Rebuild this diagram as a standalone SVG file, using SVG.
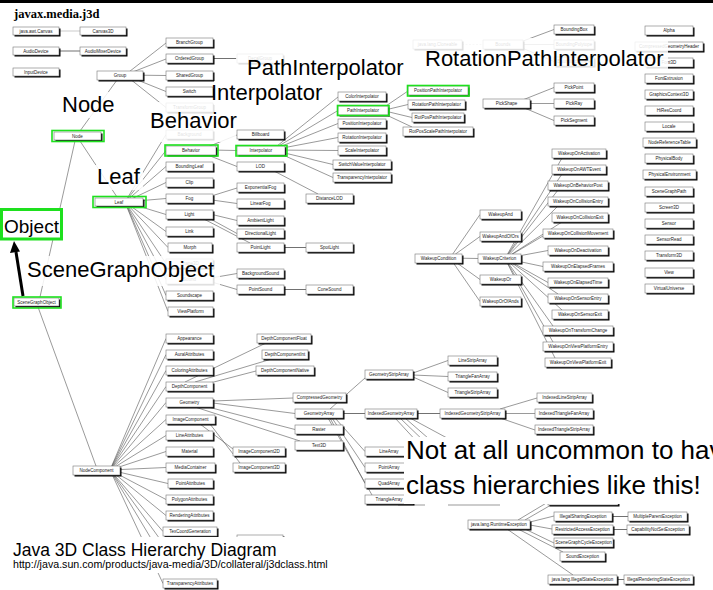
<svg xmlns="http://www.w3.org/2000/svg" width="713" height="590" viewBox="0 0 713 590">
<style>
.s{fill:#000}
.b{fill:#fff;stroke:#777;stroke-width:.6}
.t{font-family:"Liberation Sans",Arial,sans-serif;font-size:4.5px;fill:#222;text-anchor:middle}
.hl{fill:none;stroke:#1ee01e;stroke-width:1.6}
#connectors line{stroke:#555;stroke-width:.6}
#connectors .k{stroke:#111}
#connectors .d{stroke-dasharray:2 1.5;stroke:#aaa}
.L{font-family:"Liberation Sans",Arial,sans-serif;font-size:22px;fill:#000}
.fade{fill:#fff;fill-opacity:.86}
.op{fill:#fff}
</style>
<rect width="713" height="590" fill="#fff"/>
<rect width="713" height="3" fill="#000"/>
<text x="14" y="18" font-family="'Liberation Serif',serif" font-weight="bold" font-size="12.5">javax.media.j3d</text>

<g id="connectors">
<line x1="59" y1="31" x2="80" y2="31" style="stroke:#aaa"/>
<line class="k" x1="59" y1="51" x2="80" y2="51"/>
<line x1="125" y1="75" x2="166" y2="43"/>
<line x1="125" y1="75" x2="166" y2="59"/>
<line x1="125" y1="75" x2="166" y2="75.5"/>
<line x1="125" y1="75" x2="166" y2="91.5"/>
<line x1="125" y1="75" x2="166" y2="107.5"/>
<line class="k" x1="213" y1="58.5" x2="237" y2="58.5"/>
<line x1="80" y1="131" x2="117" y2="80"/>
<line x1="80" y1="141" x2="117" y2="197"/>
<line x1="40" y1="297" x2="75" y2="141"/>
<line x1="38" y1="307" x2="96" y2="466"/>
<line x1="125" y1="202" x2="166" y2="134.5"/>
<line x1="125" y1="202" x2="166" y2="150.5"/>
<line x1="125" y1="202" x2="166" y2="166.5"/>
<line x1="125" y1="202" x2="166" y2="182.5"/>
<line x1="125" y1="202" x2="166" y2="198.5"/>
<line x1="125" y1="202" x2="166" y2="214.5"/>
<line x1="125" y1="202" x2="166" y2="231.5"/>
<line x1="125" y1="202" x2="168" y2="247.5"/>
<line x1="125" y1="202" x2="166" y2="263.5"/>
<line x1="125" y1="202" x2="166" y2="279.5"/>
<line x1="125" y1="202" x2="166" y2="295.5"/>
<line x1="125" y1="202" x2="168" y2="311.5"/>
<line x1="200" y1="150" x2="237" y2="135"/>
<line x1="210" y1="150" x2="237" y2="150.5"/>
<line x1="200" y1="152" x2="237" y2="166.5"/>
<line x1="272" y1="150" x2="338" y2="97"/>
<line x1="272" y1="150" x2="338" y2="110.5"/>
<line x1="272" y1="150" x2="338" y2="123.5"/>
<line x1="272" y1="150" x2="338" y2="137.5"/>
<line x1="272" y1="150" x2="338" y2="150.5"/>
<line x1="272" y1="150" x2="333" y2="164.5"/>
<line x1="272" y1="150" x2="333" y2="177.5"/>
<line x1="274" y1="171" x2="318" y2="194"/>
<line x1="205" y1="198" x2="237" y2="188"/>
<line x1="205" y1="199" x2="237" y2="203.5"/>
<line x1="210" y1="214" x2="237" y2="220.5"/>
<line x1="205" y1="216" x2="237" y2="233.5"/>
<line x1="200" y1="217" x2="250" y2="243"/>
<line class="k" x1="284" y1="247.5" x2="306" y2="247.5"/>
<line x1="205" y1="279" x2="237" y2="273.5"/>
<line x1="205" y1="280" x2="237" y2="289.5"/>
<line class="k" x1="284" y1="289.5" x2="306" y2="289.5"/>
<line x1="380" y1="110" x2="408" y2="91"/>
<line x1="385" y1="110" x2="408" y2="104.5"/>
<line x1="385" y1="111" x2="412" y2="117.5"/>
<line x1="380" y1="112" x2="412" y2="127"/>
<line class="d" x1="462" y1="44.5" x2="483" y2="44.5"/>
<line x1="515" y1="44" x2="554" y2="29.5"/>
<line x1="523" y1="44.5" x2="554" y2="44.5"/>
<line x1="515" y1="45" x2="554" y2="61.5"/>
<line x1="515" y1="103" x2="554" y2="87.5"/>
<line x1="530" y1="103.5" x2="554" y2="103.5"/>
<line x1="515" y1="104" x2="554" y2="120.5"/>
<line x1="450" y1="258" x2="480" y2="214.5"/>
<line x1="450" y1="258" x2="480" y2="236.5"/>
<line x1="450" y1="258" x2="478" y2="258.5"/>
<line x1="450" y1="258" x2="480" y2="279.5"/>
<line x1="450" y1="258" x2="480" y2="301.5"/>
<line x1="505" y1="258.5" x2="562" y2="158"/>
<line x1="505" y1="258.5" x2="562" y2="174"/>
<line x1="505" y1="258.5" x2="558" y2="190"/>
<line x1="505" y1="258.5" x2="558" y2="206"/>
<line x1="505" y1="258.5" x2="562" y2="222"/>
<line x1="505" y1="258.5" x2="543" y2="236"/>
<line x1="505" y1="258.5" x2="548" y2="250.5"/>
<line x1="505" y1="258.5" x2="543" y2="266.5"/>
<line x1="505" y1="258.5" x2="548" y2="282.5"/>
<line x1="505" y1="258.5" x2="558" y2="294"/>
<line x1="505" y1="258.5" x2="562" y2="310"/>
<line x1="505" y1="258.5" x2="553" y2="326"/>
<line x1="505" y1="258.5" x2="553" y2="342"/>
<line x1="505" y1="258.5" x2="555" y2="358"/>
<line x1="110" y1="470" x2="166" y2="338.5"/>
<line x1="110" y1="470" x2="166" y2="354.5"/>
<line x1="110" y1="470" x2="166" y2="370.5"/>
<line x1="110" y1="470" x2="166" y2="386.5"/>
<line x1="110" y1="470" x2="166" y2="402.5"/>
<line x1="110" y1="470" x2="166" y2="419.5"/>
<line x1="110" y1="470" x2="166" y2="435.5"/>
<line x1="110" y1="470" x2="166" y2="451.5"/>
<line x1="110" y1="470" x2="166" y2="467.5"/>
<line x1="110" y1="470" x2="168" y2="483.5"/>
<line x1="110" y1="470" x2="166" y2="499.5"/>
<line x1="110" y1="470" x2="166" y2="515.5"/>
<line x1="110" y1="470" x2="163" y2="531.5"/>
<line x1="110" y1="470" x2="166" y2="547.5"/>
<line x1="110" y1="470" x2="166" y2="563.5"/>
<line x1="110" y1="470" x2="163" y2="583.5"/>
<line x1="185" y1="382" x2="265" y2="343.5"/>
<line x1="195" y1="382" x2="270" y2="359.5"/>
<line x1="210" y1="383" x2="256" y2="371"/>
<line x1="213" y1="401" x2="293" y2="398"/>
<line x1="213" y1="403" x2="295" y2="413.5"/>
<line x1="208" y1="407" x2="295" y2="429.5"/>
<line x1="195" y1="407" x2="300" y2="441"/>
<line x1="200" y1="424" x2="233" y2="449"/>
<line x1="210" y1="424" x2="240" y2="463"/>
<line x1="330" y1="409" x2="365" y2="378"/>
<line class="k" x1="343" y1="413.5" x2="365" y2="413.5"/>
<line x1="335" y1="418" x2="365" y2="451.5"/>
<line x1="332" y1="418" x2="365" y2="467.5"/>
<line x1="330" y1="418" x2="365" y2="483.5"/>
<line x1="328" y1="418" x2="372" y2="495"/>
<line x1="413" y1="373" x2="448" y2="360.5"/>
<line x1="413" y1="375" x2="448" y2="376.5"/>
<line x1="413" y1="377" x2="448" y2="392.5"/>
<line class="k" x1="417" y1="413.5" x2="440" y2="413.5"/>
<line x1="395" y1="418" x2="420" y2="445"/>
<line x1="400" y1="418" x2="428" y2="445"/>
<line x1="405" y1="418" x2="436" y2="445"/>
<line x1="410" y1="418" x2="460" y2="445"/>
<line x1="500" y1="409" x2="537" y2="398"/>
<line x1="505" y1="413.5" x2="535" y2="413.5"/>
<line x1="500" y1="418" x2="535" y2="430"/>
<line x1="398" y1="505" x2="425" y2="505"/>
<line x1="448" y1="505" x2="500" y2="505"/>
<line x1="518" y1="520" x2="548" y2="502"/>
<line x1="525" y1="520" x2="551" y2="505"/>
<line x1="530" y1="522" x2="554" y2="516"/>
<line x1="530" y1="525" x2="552" y2="529"/>
<line x1="525" y1="529" x2="554" y2="543"/>
<line x1="518" y1="529" x2="563" y2="552"/>
<line x1="507" y1="529" x2="573" y2="575"/>
<line class="k" x1="612" y1="516.5" x2="628" y2="516.5"/>
<line class="k" x1="613" y1="529.5" x2="627" y2="529.5"/>
<line class="k" x1="617" y1="579.5" x2="624" y2="579.5"/>
</g>

<g id="n-canvas"><rect class="s" x="14.5" y="28.5" width="46" height="8"/><rect class="b" x="13" y="27" width="46" height="8"/><text class="t" x="36" y="32.6">java.awt.Canvas</text></g>
<g id="n-canvas3d"><rect class="s" x="81.5" y="28.5" width="46" height="8"/><rect class="b" x="80" y="27" width="46" height="8"/><text class="t" x="103" y="32.6">Canvas3D</text></g>
<g id="n-audiodevice"><rect class="s" x="14.5" y="48.5" width="46" height="8"/><rect class="b" x="13" y="47" width="46" height="8"/><text class="t" x="36" y="52.6">AudioDevice</text></g>
<g id="n-audiomixerdevice"><rect class="s" x="81.5" y="48.5" width="46" height="8"/><rect class="b" x="80" y="47" width="46" height="8"/><text class="t" x="103" y="52.6">AudioMixerDevice</text></g>
<g id="n-inputdevice"><rect class="s" x="14.5" y="69.5" width="46" height="8"/><rect class="b" x="13" y="68" width="46" height="8"/><text class="t" x="36" y="73.6">InputDevice</text></g>
<g id="n-group"><rect class="s" x="98.5" y="72.5" width="46" height="9"/><rect class="b" x="97" y="71" width="46" height="9"/><text class="t" x="120" y="77.1">Group</text></g>
<g id="n-branchgroup"><rect class="s" x="167.5" y="39.5" width="47" height="9"/><rect class="b" x="166" y="38" width="47" height="9"/><text class="t" x="189.5" y="44.1">BranchGroup</text></g>
<g id="n-orderedgroup"><rect class="s" x="167.5" y="55.5" width="47" height="9"/><rect class="b" x="166" y="54" width="47" height="9"/><text class="t" x="189.5" y="60.1">OrderedGroup</text></g>
<g id="n-sharedgroup"><rect class="s" x="167.5" y="72.5" width="47" height="9"/><rect class="b" x="166" y="71" width="47" height="9"/><text class="t" x="189.5" y="77.1">SharedGroup</text></g>
<g id="n-switch"><rect class="s" x="167.5" y="88.5" width="47" height="9"/><rect class="b" x="166" y="87" width="47" height="9"/><text class="t" x="189.5" y="93.1">Switch</text></g>
<g id="n-transformgroup"><rect class="s" x="167.5" y="104.5" width="47" height="9"/><rect class="b" x="166" y="103" width="47" height="9"/><text class="t" x="189.5" y="109.1">TransformGroup</text></g>
<g id="n-decalgroup"><rect class="s" x="238.5" y="55.5" width="46" height="9"/><rect class="b" x="237" y="54" width="46" height="9"/><text class="t" x="260" y="60.1">DecalGroup</text></g>
<g id="n-node"><rect class="s" x="55.5" y="133.5" width="47" height="8"/><rect class="b" x="54" y="132" width="47" height="8"/><text class="t" x="77.5" y="137.6">Node</text></g>
<g id="n-leaf"><rect class="s" x="96.5" y="199.5" width="48" height="8"/><rect class="b" x="95" y="198" width="48" height="8"/><text class="t" x="119" y="203.6">Leaf</text></g>
<g id="n-background"><rect class="s" x="167.5" y="131.5" width="47" height="9"/><rect class="b" x="166" y="130" width="47" height="9"/><text class="t" x="189.5" y="136.1">Background</text></g>
<g id="n-behavior"><rect class="s" x="167.5" y="147.5" width="50" height="9"/><rect class="b" x="166" y="146" width="50" height="9"/><text class="t" x="191" y="152.1">Behavior</text></g>
<g id="n-boundingleaf"><rect class="s" x="167.5" y="163.5" width="47" height="9"/><rect class="b" x="166" y="162" width="47" height="9"/><text class="t" x="189.5" y="168.1">BoundingLeaf</text></g>
<g id="n-clip"><rect class="s" x="167.5" y="179.5" width="47" height="9"/><rect class="b" x="166" y="178" width="47" height="9"/><text class="t" x="189.5" y="184.1">Clip</text></g>
<g id="n-fog"><rect class="s" x="167.5" y="195.5" width="47" height="9"/><rect class="b" x="166" y="194" width="47" height="9"/><text class="t" x="189.5" y="200.1">Fog</text></g>
<g id="n-light"><rect class="s" x="167.5" y="211.5" width="47" height="9"/><rect class="b" x="166" y="210" width="47" height="9"/><text class="t" x="189.5" y="216.1">Light</text></g>
<g id="n-link"><rect class="s" x="167.5" y="228.5" width="47" height="9"/><rect class="b" x="166" y="227" width="47" height="9"/><text class="t" x="189.5" y="233.1">Link</text></g>
<g id="n-morph"><rect class="s" x="169.5" y="244.5" width="44" height="9"/><rect class="b" x="168" y="243" width="44" height="9"/><text class="t" x="190" y="249.1">Morph</text></g>
<g id="n-shape3d"><rect class="s" x="167.5" y="260.5" width="47" height="9"/><rect class="b" x="166" y="259" width="47" height="9"/><text class="t" x="189.5" y="265.1">Shape3D</text></g>
<g id="n-sound"><rect class="s" x="167.5" y="276.5" width="47" height="9"/><rect class="b" x="166" y="275" width="47" height="9"/><text class="t" x="189.5" y="281.1">Sound</text></g>
<g id="n-soundscape"><rect class="s" x="167.5" y="292.5" width="47" height="9"/><rect class="b" x="166" y="291" width="47" height="9"/><text class="t" x="189.5" y="297.1">Soundscape</text></g>
<g id="n-viewplatform"><rect class="s" x="169.5" y="308.5" width="45" height="9"/><rect class="b" x="168" y="307" width="45" height="9"/><text class="t" x="190.5" y="313.1">ViewPlatform</text></g>
<g id="n-billboard"><rect class="s" x="238.5" y="131.5" width="47" height="9"/><rect class="b" x="237" y="130" width="47" height="9"/><text class="t" x="260.5" y="136.1">Billboard</text></g>
<g id="n-interpolator"><rect class="s" x="238.5" y="147.5" width="48" height="9"/><rect class="b" x="237" y="146" width="48" height="9"/><text class="t" x="261" y="152.1">Interpolator</text></g>
<g id="n-lod"><rect class="s" x="238.5" y="163.5" width="47" height="9"/><rect class="b" x="237" y="162" width="47" height="9"/><text class="t" x="260.5" y="168.1">LOD</text></g>
<g id="n-exponentialfog"><rect class="s" x="238.5" y="184.5" width="47" height="9"/><rect class="b" x="237" y="183" width="47" height="9"/><text class="t" x="260.5" y="189.1">ExponentialFog</text></g>
<g id="n-linearfog"><rect class="s" x="238.5" y="200.5" width="47" height="9"/><rect class="b" x="237" y="199" width="47" height="9"/><text class="t" x="260.5" y="205.1">LinearFog</text></g>
<g id="n-ambientlight"><rect class="s" x="238.5" y="217.5" width="47" height="9"/><rect class="b" x="237" y="216" width="47" height="9"/><text class="t" x="260.5" y="222.1">AmbientLight</text></g>
<g id="n-directionallight"><rect class="s" x="238.5" y="230.5" width="47" height="9"/><rect class="b" x="237" y="229" width="47" height="9"/><text class="t" x="260.5" y="235.1">DirectionalLight</text></g>
<g id="n-pointlight"><rect class="s" x="238.5" y="244.5" width="47" height="9"/><rect class="b" x="237" y="243" width="47" height="9"/><text class="t" x="260.5" y="249.1">PointLight</text></g>
<g id="n-spotlight"><rect class="s" x="307.5" y="244.5" width="47" height="9"/><rect class="b" x="306" y="243" width="47" height="9"/><text class="t" x="329.5" y="249.1">SpotLight</text></g>
<g id="n-distancelod"><rect class="s" x="307.5" y="195.5" width="47" height="9"/><rect class="b" x="306" y="194" width="47" height="9"/><text class="t" x="329.5" y="200.1">DistanceLOD</text></g>
<g id="n-backgroundsound"><rect class="s" x="238.5" y="270.5" width="47" height="9"/><rect class="b" x="237" y="269" width="47" height="9"/><text class="t" x="260.5" y="275.1">BackgroundSound</text></g>
<g id="n-pointsound"><rect class="s" x="238.5" y="286.5" width="47" height="9"/><rect class="b" x="237" y="285" width="47" height="9"/><text class="t" x="260.5" y="291.1">PointSound</text></g>
<g id="n-conesound"><rect class="s" x="307.5" y="286.5" width="47" height="9"/><rect class="b" x="306" y="285" width="47" height="9"/><text class="t" x="329.5" y="291.1">ConeSound</text></g>
<g id="n-colorinterpolator"><rect class="s" x="339.5" y="93.5" width="48" height="9"/><rect class="b" x="338" y="92" width="48" height="9"/><text class="t" x="362" y="98.1">ColorInterpolator</text></g>
<g id="n-pathinterpolator"><rect class="s" x="339.5" y="107.5" width="50" height="9"/><rect class="b" x="338" y="106" width="50" height="9"/><text class="t" x="363" y="112.1">PathInterpolator</text></g>
<g id="n-positioninterpolator"><rect class="s" x="339.5" y="120.5" width="48" height="9"/><rect class="b" x="338" y="119" width="48" height="9"/><text class="t" x="362" y="125.1">PositionInterpolator</text></g>
<g id="n-rotationinterpolator"><rect class="s" x="339.5" y="134.5" width="48" height="9"/><rect class="b" x="338" y="133" width="48" height="9"/><text class="t" x="362" y="139.1">RotationInterpolator</text></g>
<g id="n-scaleinterpolator"><rect class="s" x="339.5" y="147.5" width="48" height="9"/><rect class="b" x="338" y="146" width="48" height="9"/><text class="t" x="362" y="152.1">ScaleInterpolator</text></g>
<g id="n-switchvalueinterpolator"><rect class="s" x="334.5" y="161.5" width="58" height="9"/><rect class="b" x="333" y="160" width="58" height="9"/><text class="t" x="362" y="166.1">SwitchValueInterpolator</text></g>
<g id="n-transparencyinterpolator"><rect class="s" x="334.5" y="174.5" width="58" height="9"/><rect class="b" x="333" y="173" width="58" height="9"/><text class="t" x="362" y="179.1">TransparencyInterpolator</text></g>
<g id="n-positionpathinterpolator"><rect class="s" x="409.5" y="87.5" width="60" height="9"/><rect class="b" x="408" y="86" width="60" height="9"/><text class="t" x="438" y="92.1">PositionPathInterpolator</text></g>
<g id="n-rotationpathinterpolator"><rect class="s" x="409.5" y="101.5" width="57" height="9"/><rect class="b" x="408" y="100" width="57" height="9"/><text class="t" x="436.5" y="106.1">RotationPathInterpolator</text></g>
<g id="n-rotpospathinterpolator"><rect class="s" x="413.5" y="114.5" width="52" height="9"/><rect class="b" x="412" y="113" width="52" height="9"/><text class="t" x="438" y="119.1">RotPosPathInterpolator</text></g>
<g id="n-rotposscalepathinterpolator"><rect class="s" x="404.5" y="128.5" width="70" height="9"/><rect class="b" x="403" y="127" width="70" height="9"/><text class="t" x="438" y="133.1">RotPosScalePathInterpolator</text></g>
<g id="n-cloneable"><rect class="s" x="414.5" y="41.5" width="49" height="9"/><rect class="b" x="413" y="40" width="49" height="9"/><text class="t" x="437.5" y="46.1">java.lang.Cloneable</text></g>
<g id="n-bounds"><rect class="s" x="484.5" y="41.5" width="40" height="9"/><rect class="b" x="483" y="40" width="40" height="9"/><text class="t" x="503" y="46.1">Bounds</text></g>
<g id="n-boundingbox"><rect class="s" x="555.5" y="26.5" width="40" height="9"/><rect class="b" x="554" y="25" width="40" height="9"/><text class="t" x="574" y="31.1">BoundingBox</text></g>
<g id="n-boundingpolytope"><rect class="s" x="555.5" y="41.5" width="40" height="9"/><rect class="b" x="554" y="40" width="40" height="9"/><text class="t" x="574" y="46.1">BoundingPolytope</text></g>
<g id="n-boundingsphere"><rect class="s" x="555.5" y="58.5" width="40" height="9"/><rect class="b" x="554" y="57" width="40" height="9"/><text class="t" x="574" y="63.1">BoundingSphere</text></g>
<g id="n-pickshape"><rect class="s" x="484.5" y="100.5" width="47" height="9"/><rect class="b" x="483" y="99" width="47" height="9"/><text class="t" x="506.5" y="105.1">PickShape</text></g>
<g id="n-pickpoint"><rect class="s" x="555.5" y="84.5" width="40" height="9"/><rect class="b" x="554" y="83" width="40" height="9"/><text class="t" x="574" y="89.1">PickPoint</text></g>
<g id="n-pickray"><rect class="s" x="555.5" y="100.5" width="40" height="9"/><rect class="b" x="554" y="99" width="40" height="9"/><text class="t" x="574" y="105.1">PickRay</text></g>
<g id="n-picksegment"><rect class="s" x="555.5" y="117.5" width="40" height="9"/><rect class="b" x="554" y="116" width="40" height="9"/><text class="t" x="574" y="122.1">PickSegment</text></g>
<g id="n-alpha"><rect class="s" x="646.5" y="27.5" width="48" height="9"/><rect class="b" x="645" y="26" width="48" height="9"/><text class="t" x="669" y="32.1">Alpha</text></g>
<g id="n-compressedgeometryheader"><rect class="s" x="636.5" y="43.5" width="68" height="9"/><rect class="b" x="635" y="42" width="68" height="9"/><text class="t" x="669" y="48.1">CompressedGeometryHeader</text></g>
<g id="n-font3d"><rect class="s" x="646.5" y="59.5" width="48" height="9"/><rect class="b" x="645" y="58" width="48" height="9"/><text class="t" x="669" y="64.1">Font3D</text></g>
<g id="n-fontextrusion"><rect class="s" x="646.5" y="75.5" width="48" height="9"/><rect class="b" x="645" y="74" width="48" height="9"/><text class="t" x="669" y="80.1">FontExtrusion</text></g>
<g id="n-graphicscontext3d"><rect class="s" x="646.5" y="91.5" width="48" height="9"/><rect class="b" x="645" y="90" width="48" height="9"/><text class="t" x="669" y="96.1">GraphicsContext3D</text></g>
<g id="n-hirescoord"><rect class="s" x="646.5" y="107.5" width="48" height="9"/><rect class="b" x="645" y="106" width="48" height="9"/><text class="t" x="669" y="112.1">HiResCoord</text></g>
<g id="n-locale"><rect class="s" x="646.5" y="123.5" width="48" height="9"/><rect class="b" x="645" y="122" width="48" height="9"/><text class="t" x="669" y="128.1">Locale</text></g>
<g id="n-nodereferencetable"><rect class="s" x="644.5" y="139.5" width="53" height="9"/><rect class="b" x="643" y="138" width="53" height="9"/><text class="t" x="669.5" y="144.1">NodeReferenceTable</text></g>
<g id="n-physicalbody"><rect class="s" x="646.5" y="155.5" width="48" height="9"/><rect class="b" x="645" y="154" width="48" height="9"/><text class="t" x="669" y="160.1">PhysicalBody</text></g>
<g id="n-physicalenvironment"><rect class="s" x="644.5" y="171.5" width="53" height="9"/><rect class="b" x="643" y="170" width="53" height="9"/><text class="t" x="669.5" y="176.1">PhysicalEnvironment</text></g>
<g id="n-scenegraphpath"><rect class="s" x="646.5" y="188.5" width="48" height="9"/><rect class="b" x="645" y="187" width="48" height="9"/><text class="t" x="669" y="193.1">SceneGraphPath</text></g>
<g id="n-screen3d"><rect class="s" x="646.5" y="204.5" width="48" height="9"/><rect class="b" x="645" y="203" width="48" height="9"/><text class="t" x="669" y="209.1">Screen3D</text></g>
<g id="n-sensor"><rect class="s" x="646.5" y="220.5" width="48" height="9"/><rect class="b" x="645" y="219" width="48" height="9"/><text class="t" x="669" y="225.1">Sensor</text></g>
<g id="n-sensorread"><rect class="s" x="646.5" y="236.5" width="48" height="9"/><rect class="b" x="645" y="235" width="48" height="9"/><text class="t" x="669" y="241.1">SensorRead</text></g>
<g id="n-transform3d"><rect class="s" x="646.5" y="252.5" width="48" height="9"/><rect class="b" x="645" y="251" width="48" height="9"/><text class="t" x="669" y="257.1">Transform3D</text></g>
<g id="n-view"><rect class="s" x="646.5" y="269.5" width="48" height="9"/><rect class="b" x="645" y="268" width="48" height="9"/><text class="t" x="669" y="274.1">View</text></g>
<g id="n-virtualuniverse"><rect class="s" x="646.5" y="285.5" width="48" height="9"/><rect class="b" x="645" y="284" width="48" height="9"/><text class="t" x="669" y="290.1">VirtualUniverse</text></g>
<g id="n-wakeupcondition"><rect class="s" x="416.5" y="255.5" width="47" height="9"/><rect class="b" x="415" y="254" width="47" height="9"/><text class="t" x="438.5" y="260.1">WakeupCondition</text></g>
<g id="n-wakeupand"><rect class="s" x="481.5" y="211.5" width="41" height="9"/><rect class="b" x="480" y="210" width="41" height="9"/><text class="t" x="500.5" y="216.1">WakeupAnd</text></g>
<g id="n-wakeupandofors"><rect class="s" x="481.5" y="233.5" width="41" height="9"/><rect class="b" x="480" y="232" width="41" height="9"/><text class="t" x="500.5" y="238.1">WakeupAndOfOrs</text></g>
<g id="n-wakeupcriterion"><rect class="s" x="479.5" y="255.5" width="43" height="9"/><rect class="b" x="478" y="254" width="43" height="9"/><text class="t" x="499.5" y="260.1">WakeupCriterion</text></g>
<g id="n-wakeupor"><rect class="s" x="481.5" y="276.5" width="41" height="9"/><rect class="b" x="480" y="275" width="41" height="9"/><text class="t" x="500.5" y="281.1">WakeupOr</text></g>
<g id="n-wakeuporofands"><rect class="s" x="481.5" y="298.5" width="41" height="9"/><rect class="b" x="480" y="297" width="41" height="9"/><text class="t" x="500.5" y="303.1">WakeupOrOfAnds</text></g>
<g id="n-wakeuponactivation"><rect class="s" x="553.5" y="150.5" width="54" height="9"/><rect class="b" x="552" y="149" width="54" height="9"/><text class="t" x="579" y="155.1">WakeupOnActivation</text></g>
<g id="n-wakeuponawtevent"><rect class="s" x="553.5" y="166.5" width="54" height="9"/><rect class="b" x="552" y="165" width="54" height="9"/><text class="t" x="579" y="171.1">WakeupOnAWTEvent</text></g>
<g id="n-wakeuponbehaviorpost"><rect class="s" x="549.5" y="182.5" width="60" height="9"/><rect class="b" x="548" y="181" width="60" height="9"/><text class="t" x="578" y="187.1">WakeupOnBehaviorPost</text></g>
<g id="n-wakeuponcollisionentry"><rect class="s" x="549.5" y="198.5" width="60" height="9"/><rect class="b" x="548" y="197" width="60" height="9"/><text class="t" x="578" y="203.1">WakeupOnCollisionEntry</text></g>
<g id="n-wakeuponcollisionexit"><rect class="s" x="553.5" y="214.5" width="56" height="9"/><rect class="b" x="552" y="213" width="56" height="9"/><text class="t" x="580" y="219.1">WakeupOnCollisionExit</text></g>
<g id="n-wakeuponcollisionmovement"><rect class="s" x="544.5" y="230.5" width="70" height="9"/><rect class="b" x="543" y="229" width="70" height="9"/><text class="t" x="578" y="235.1">WakeupOnCollisionMovement</text></g>
<g id="n-wakeupondeactivation"><rect class="s" x="549.5" y="247.5" width="60" height="9"/><rect class="b" x="548" y="246" width="60" height="9"/><text class="t" x="578" y="252.1">WakeupOnDeactivation</text></g>
<g id="n-wakeuponelapsedframes"><rect class="s" x="544.5" y="263.5" width="70" height="9"/><rect class="b" x="543" y="262" width="70" height="9"/><text class="t" x="578" y="268.1">WakeupOnElapsedFrames</text></g>
<g id="n-wakeuponelapsedtime"><rect class="s" x="549.5" y="279.5" width="60" height="9"/><rect class="b" x="548" y="278" width="60" height="9"/><text class="t" x="578" y="284.1">WakeupOnElapsedTime</text></g>
<g id="n-wakeuponsensorentry"><rect class="s" x="549.5" y="295.5" width="60" height="9"/><rect class="b" x="548" y="294" width="60" height="9"/><text class="t" x="578" y="300.1">WakeupOnSensorEntry</text></g>
<g id="n-wakeuponsensorexit"><rect class="s" x="553.5" y="311.5" width="56" height="9"/><rect class="b" x="552" y="310" width="56" height="9"/><text class="t" x="580" y="316.1">WakeupOnSensorExit</text></g>
<g id="n-wakeupontransformchange"><rect class="s" x="544.5" y="327.5" width="70" height="9"/><rect class="b" x="543" y="326" width="70" height="9"/><text class="t" x="578" y="332.1">WakeupOnTransformChange</text></g>
<g id="n-wakeuponviewplatformentry"><rect class="s" x="544.5" y="343.5" width="70" height="9"/><rect class="b" x="543" y="342" width="70" height="9"/><text class="t" x="578" y="348.1">WakeupOnViewPlatformEntry</text></g>
<g id="n-wakeuponviewplatformexit"><rect class="s" x="546.5" y="359.5" width="66" height="9"/><rect class="b" x="545" y="358" width="66" height="9"/><text class="t" x="578" y="364.1">WakeupOnViewPlatformExit</text></g>
<g id="n-scenegraphobject"><rect class="s" x="15.5" y="299.5" width="45" height="8"/><rect class="b" x="14" y="298" width="45" height="8"/><text class="t" x="36.5" y="303.6">SceneGraphObject</text></g>
<g id="n-nodecomponent"><rect class="s" x="74.5" y="467.5" width="47" height="9"/><rect class="b" x="73" y="466" width="47" height="9"/><text class="t" x="96.5" y="472.1">NodeComponent</text></g>
<g id="n-appearance"><rect class="s" x="167.5" y="335.5" width="47" height="9"/><rect class="b" x="166" y="334" width="47" height="9"/><text class="t" x="189.5" y="340.1">Appearance</text></g>
<g id="n-auralattributes"><rect class="s" x="167.5" y="351.5" width="47" height="9"/><rect class="b" x="166" y="350" width="47" height="9"/><text class="t" x="189.5" y="356.1">AuralAttributes</text></g>
<g id="n-coloringattributes"><rect class="s" x="167.5" y="367.5" width="47" height="9"/><rect class="b" x="166" y="366" width="47" height="9"/><text class="t" x="189.5" y="372.1">ColoringAttributes</text></g>
<g id="n-depthcomponent"><rect class="s" x="167.5" y="383.5" width="47" height="9"/><rect class="b" x="166" y="382" width="47" height="9"/><text class="t" x="189.5" y="388.1">DepthComponent</text></g>
<g id="n-geometry"><rect class="s" x="167.5" y="399.5" width="47" height="9"/><rect class="b" x="166" y="398" width="47" height="9"/><text class="t" x="189.5" y="404.1">Geometry</text></g>
<g id="n-imagecomponent"><rect class="s" x="167.5" y="416.5" width="49" height="9"/><rect class="b" x="166" y="415" width="49" height="9"/><text class="t" x="190.5" y="421.1">ImageComponent</text></g>
<g id="n-lineattributes"><rect class="s" x="167.5" y="432.5" width="47" height="9"/><rect class="b" x="166" y="431" width="47" height="9"/><text class="t" x="189.5" y="437.1">LineAttributes</text></g>
<g id="n-material"><rect class="s" x="167.5" y="448.5" width="47" height="9"/><rect class="b" x="166" y="447" width="47" height="9"/><text class="t" x="189.5" y="453.1">Material</text></g>
<g id="n-mediacontainer"><rect class="s" x="167.5" y="464.5" width="49" height="9"/><rect class="b" x="166" y="463" width="49" height="9"/><text class="t" x="190.5" y="469.1">MediaContainer</text></g>
<g id="n-pointattributes"><rect class="s" x="169.5" y="480.5" width="45" height="9"/><rect class="b" x="168" y="479" width="45" height="9"/><text class="t" x="190.5" y="485.1">PointAttributes</text></g>
<g id="n-polygonattributes"><rect class="s" x="167.5" y="496.5" width="47" height="9"/><rect class="b" x="166" y="495" width="47" height="9"/><text class="t" x="189.5" y="501.1">PolygonAttributes</text></g>
<g id="n-renderingattributes"><rect class="s" x="167.5" y="512.5" width="47" height="9"/><rect class="b" x="166" y="511" width="47" height="9"/><text class="t" x="189.5" y="517.1">RenderingAttributes</text></g>
<g id="n-texcoordgeneration"><rect class="s" x="164.5" y="528.5" width="54" height="9"/><rect class="b" x="163" y="527" width="54" height="9"/><text class="t" x="190" y="533.1">TexCoordGeneration</text></g>
<g id="n-texture2d"><rect class="s" x="238.5" y="536.5" width="46" height="9"/><rect class="b" x="237" y="535" width="46" height="9"/></g>
<g id="n-transparencyattributes"><rect class="s" x="164.5" y="580.5" width="54" height="9"/><rect class="b" x="163" y="579" width="54" height="9"/><text class="t" x="190" y="585.1">TransparencyAttributes</text></g>
<g id="n-depthcomponentfloat"><rect class="s" x="258.5" y="335.5" width="54" height="9"/><rect class="b" x="257" y="334" width="54" height="9"/><text class="t" x="284" y="340.1">DepthComponentFloat</text></g>
<g id="n-depthcomponentint"><rect class="s" x="263.5" y="351.5" width="46" height="9"/><rect class="b" x="262" y="350" width="46" height="9"/><text class="t" x="285" y="356.1">DepthComponentInt</text></g>
<g id="n-depthcomponentnative"><rect class="s" x="257.5" y="367.5" width="58" height="9"/><rect class="b" x="256" y="366" width="58" height="9"/><text class="t" x="285" y="372.1">DepthComponentNative</text></g>
<g id="n-compressedgeometry"><rect class="s" x="294.5" y="394.5" width="53" height="9"/><rect class="b" x="293" y="393" width="53" height="9"/><text class="t" x="319.5" y="399.1">CompressedGeometry</text></g>
<g id="n-geometryarray"><rect class="s" x="296.5" y="410.5" width="48" height="9"/><rect class="b" x="295" y="409" width="48" height="9"/><text class="t" x="319" y="415.1">GeometryArray</text></g>
<g id="n-raster"><rect class="s" x="296.5" y="426.5" width="48" height="9"/><rect class="b" x="295" y="425" width="48" height="9"/><text class="t" x="319" y="431.1">Raster</text></g>
<g id="n-text3d"><rect class="s" x="296.5" y="442.5" width="48" height="9"/><rect class="b" x="295" y="441" width="48" height="9"/><text class="t" x="319" y="447.1">Text3D</text></g>
<g id="n-imagecomponent2d"><rect class="s" x="234.5" y="448.5" width="52" height="9"/><rect class="b" x="233" y="447" width="52" height="9"/><text class="t" x="259" y="453.1">ImageComponent2D</text></g>
<g id="n-imagecomponent3d"><rect class="s" x="234.5" y="464.5" width="52" height="9"/><rect class="b" x="233" y="463" width="52" height="9"/><text class="t" x="259" y="469.1">ImageComponent3D</text></g>
<g id="n-geometrystriparray"><rect class="s" x="366.5" y="371.5" width="48" height="9"/><rect class="b" x="365" y="370" width="48" height="9"/><text class="t" x="389" y="376.1">GeometryStripArray</text></g>
<g id="n-indexedgeometryarray"><rect class="s" x="366.5" y="410.5" width="52" height="9"/><rect class="b" x="365" y="409" width="52" height="9"/><text class="t" x="391" y="415.1">IndexedGeometryArray</text></g>
<g id="n-linearray"><rect class="s" x="366.5" y="448.5" width="48" height="9"/><rect class="b" x="365" y="447" width="48" height="9"/><text class="t" x="389" y="453.1">LineArray</text></g>
<g id="n-pointarray"><rect class="s" x="366.5" y="464.5" width="48" height="9"/><rect class="b" x="365" y="463" width="48" height="9"/><text class="t" x="389" y="469.1">PointArray</text></g>
<g id="n-quadarray"><rect class="s" x="366.5" y="480.5" width="48" height="9"/><rect class="b" x="365" y="479" width="48" height="9"/><text class="t" x="389" y="485.1">QuadArray</text></g>
<g id="n-trianglearray"><rect class="s" x="366.5" y="496.5" width="48" height="9"/><rect class="b" x="365" y="495" width="48" height="9"/><text class="t" x="389" y="501.1">TriangleArray</text></g>
<g id="n-linestriparray"><rect class="s" x="449.5" y="357.5" width="49" height="9"/><rect class="b" x="448" y="356" width="49" height="9"/><text class="t" x="472.5" y="362.1">LineStripArray</text></g>
<g id="n-trianglefanarray"><rect class="s" x="449.5" y="373.5" width="49" height="9"/><rect class="b" x="448" y="372" width="49" height="9"/><text class="t" x="472.5" y="378.1">TriangleFanArray</text></g>
<g id="n-trianglestriparray"><rect class="s" x="449.5" y="389.5" width="49" height="9"/><rect class="b" x="448" y="388" width="49" height="9"/><text class="t" x="472.5" y="394.1">TriangleStripArray</text></g>
<g id="n-indexedgeometrystriparray"><rect class="s" x="441.5" y="410.5" width="65" height="9"/><rect class="b" x="440" y="409" width="65" height="9"/><text class="t" x="472.5" y="415.1">IndexedGeometryStripArray</text></g>
<g id="n-indexedlinestriparray"><rect class="s" x="538.5" y="394.5" width="55" height="9"/><rect class="b" x="537" y="393" width="55" height="9"/><text class="t" x="564.5" y="399.1">IndexedLineStripArray</text></g>
<g id="n-indexedtrianglefanarray"><rect class="s" x="536.5" y="410.5" width="58" height="9"/><rect class="b" x="535" y="409" width="58" height="9"/><text class="t" x="564" y="415.1">IndexedTriangleFanArray</text></g>
<g id="n-indexedtrianglestriparray"><rect class="s" x="536.5" y="426.5" width="58" height="9"/><rect class="b" x="535" y="425" width="58" height="9"/><text class="t" x="564" y="431.1">IndexedTriangleStripArray</text></g>
<g id="n-exceptionbox"><rect class="s" x="549.5" y="497.5" width="70" height="9"/><rect class="b" x="548" y="496" width="70" height="9"/></g>
<g id="n-runtimeexception"><rect class="s" x="469.5" y="521.5" width="62" height="9"/><rect class="b" x="468" y="520" width="62" height="9"/><text class="t" x="499" y="526.1">java.lang.RuntimeException</text></g>
<g id="n-illegalsharingexception"><rect class="s" x="555.5" y="513.5" width="58" height="9"/><rect class="b" x="554" y="512" width="58" height="9"/><text class="t" x="583" y="518.1">IllegalSharingException</text></g>
<g id="n-multipleparentexception"><rect class="s" x="629.5" y="513.5" width="59" height="9"/><rect class="b" x="628" y="512" width="59" height="9"/><text class="t" x="657.5" y="518.1">MultipleParentException</text></g>
<g id="n-restrictedaccessexception"><rect class="s" x="553.5" y="526.5" width="61" height="9"/><rect class="b" x="552" y="525" width="61" height="9"/><text class="t" x="582.5" y="531.1">RestrictedAccessException</text></g>
<g id="n-capabilitynotsetexception"><rect class="s" x="628.5" y="526.5" width="62" height="9"/><rect class="b" x="627" y="525" width="62" height="9"/><text class="t" x="658" y="531.1">CapabilityNotSetException</text></g>
<g id="n-scenegraphcycleexception"><rect class="s" x="555.5" y="539.5" width="59" height="9"/><rect class="b" x="554" y="538" width="59" height="9"/><text class="t" x="583.5" y="544.1">SceneGraphCycleException</text></g>
<g id="n-soundexception"><rect class="s" x="561.5" y="553.5" width="45" height="9"/><rect class="b" x="560" y="552" width="45" height="9"/><text class="t" x="582.5" y="558.1">SoundException</text></g>
<g id="n-illegalstateexception"><rect class="s" x="549.5" y="576.5" width="69" height="9"/><rect class="b" x="548" y="575" width="69" height="9"/><text class="t" x="582.5" y="581.1">java.lang.IllegalStateException</text></g>
<g id="n-illegalrenderingstateexception"><rect class="s" x="625.5" y="576.5" width="69" height="9"/><rect class="b" x="624" y="575" width="69" height="9"/><text class="t" x="658.5" y="581.1">IllegalRenderingStateException</text></g>

<!-- highlight frames -->
<g id="highlights">
<rect class="hl" x="52" y="130.5" width="52" height="11"/>
<rect class="hl" x="93" y="196.5" width="53" height="11"/>
<rect class="hl" x="165" y="145" width="53" height="11"/>
<rect class="hl" x="236" y="145.5" width="51" height="10.5"/>
<rect class="hl" x="337.5" y="105.5" width="51.5" height="10"/>
<rect class="hl" x="407.5" y="85.5" width="61.5" height="10.5"/>
<rect class="hl" x="13" y="297" width="48" height="11"/>
</g>

<!-- caption labels, each on a translucent white panel -->
<g id="labels">
<rect class="fade" x="60" y="92" width="56" height="26"/>
<text class="L" x="62" y="112">Node</text>
<rect class="fade" x="95" y="165" width="48" height="25"/>
<text class="L" x="97" y="184">Leaf</text>
<rect class="fade" x="148" y="102" width="88" height="40"/>
<text class="L" x="150" y="128">Behavior</text>
<rect class="fade" x="214" y="81" width="112" height="24"/>
<text class="L" x="211" y="100">Interpolator</text>
<rect class="fade" x="236" y="53" width="172" height="27"/>
<text class="L" x="247" y="75">PathInterpolator</text>
<rect class="fade" x="410" y="38" width="258" height="32"/>
<text class="L" x="425" y="66">RotationPathInterpolator</text>
<rect class="fade" x="25" y="256" width="195" height="30"/>
<text class="L" x="27" y="277">SceneGraphObject</text>
</g>

<g id="n-object">
<rect x="1.5" y="209.5" width="60" height="29.5" fill="#fff" stroke="#1ee01e" stroke-width="3"/>
<text x="4" y="233" font-family="'Liberation Sans',Arial,sans-serif" font-size="19">Object</text>
</g>
<g id="arrow">
<line x1="23" y1="296" x2="16" y2="252" stroke="#000" stroke-width="3"/>
<polygon points="14,241 10,253 20,251.5" fill="#000"/>
</g>

<g id="note">
<rect class="op" x="404" y="437" width="309" height="67"/>
<text x="406" y="459" font-family="'Liberation Sans',Arial,sans-serif" font-size="26">Not at all uncommon to have</text>
<text x="406" y="494" font-family="'Liberation Sans',Arial,sans-serif" font-size="26">class hierarchies like this!</text>
</g>
<g id="caption">
<rect class="op" x="8" y="537" width="337" height="36"/>
<text x="13" y="556" font-family="'Liberation Sans',Arial,sans-serif" font-size="17.5">Java 3D Class Hierarchy Diagram</text>
<text x="13" y="568" font-family="'Liberation Sans',Arial,sans-serif" font-size="10.65">http://java.sun.com/products/java-media/3D/collateral/j3dclass.html</text>
</g>
</svg>
